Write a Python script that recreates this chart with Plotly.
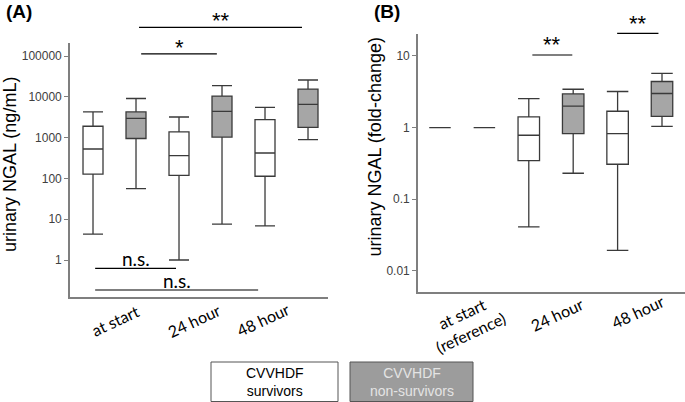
import math
import plotly.graph_objects as go

# ---------------- data ----------------
group_names = ["CVVHDF<br>survivors", "CVVHDF<br>non-survivors"]

# Panel A: urinary NGAL (ng/mL)
a_time_labels = ["at start", "24 hour", "48 hour"]
a_label_pos = [1.51, 3.35, 4.95]
a_surv_x = [1, 3, 5]
a_surv_low = [4.3, 1.0, 6.9]
a_surv_q1 = [128, 119, 113]
a_surv_med = [525, 360, 420]
a_surv_q3 = [1900, 1380, 2770]
a_surv_high = [4250, 3200, 5500]
a_non_x = [2, 4, 6]
a_non_low = [56, 7.6, 890]
a_non_q1 = [950, 1030, 1790]
a_non_med = [2950, 4400, 6550]
a_non_q3 = [4250, 10400, 15500]
a_non_high = [9100, 18700, 25800]
a_tickvals = [1, 10, 100, 1000, 10000, 100000]
a_ticktext = ["1", "10", "100", "1000", "10000", "100000"]
# significance comparisons: (x0, x1, line y, text y, label)
a_sig = [
    (2.07, 5.86, 10 ** 5.70, 10 ** 5.86, "**"),
    (2.12, 3.88, 10 ** 5.05, 10 ** 5.22, "*"),
    (1.05, 2.93, 10 ** -0.203, 10 ** 0.03, "n.s."),
    (1.05, 4.84, 10 ** -0.735, 10 ** -0.51, "n.s."),
]

# Panel B: urinary NGAL (fold-change)
b_time_labels = ["at start<br>(reference)", "24 hour", "48 hour"]
b_label_pos = [1.6, 3.63, 5.46]
b_surv_x = [1, 3, 5]
b_surv_low = [1, 0.041, 0.0192]
b_surv_q1 = [1, 0.345, 0.307]
b_surv_med = [1, 0.78, 0.82]
b_surv_q3 = [1, 1.41, 1.69]
b_surv_high = [1, 2.54, 3.19]
b_non_x = [2, 4, 6]
b_non_low = [1, 0.23, 1.04]
b_non_q1 = [1, 0.82, 1.43]
b_non_med = [1, 1.99, 2.99]
b_non_q3 = [1, 2.95, 4.4]
b_non_high = [1, 3.43, 5.7]
b_tickvals = [0.01, 0.1, 1, 10]
b_ticktext = ["0.01", "0.1", "1", "10"]
b_sig = [
    (3.08, 3.98, 10 ** 1.014, 10 ** 1.16, "**"),
    (4.99, 5.92, 10 ** 1.317, 10 ** 1.45, "**"),
]

# ---------------- styling ----------------
LINE = "#3a3a3a"
AXIS = "#7f7f7f"
GRAY_FILL = "#a6a6a6"
W, H = 685, 402
A_YRANGE = [-0.907, 5.319]
B_YRANGE = [-2.302, 1.303]

fig = go.Figure()


def add_boxes(xs, low, q1, med, q3, high, fill, width, xa, ya):
    fig.add_trace(go.Box(
        x=xs, lowerfence=low, q1=q1, median=med, q3=q3, upperfence=high,
        width=width, whiskerwidth=1, fillcolor=fill,
        line=dict(color=LINE, width=1.3), boxpoints=False,
        showlegend=False, hoverinfo="skip", xaxis=xa, yaxis=ya,
    ))


add_boxes(a_surv_x, a_surv_low, a_surv_q1, a_surv_med, a_surv_q3, a_surv_high, "white", 0.465, "x", "y")
add_boxes(a_non_x, a_non_low, a_non_q1, a_non_med, a_non_q3, a_non_high, GRAY_FILL, 0.465, "x", "y")
add_boxes(b_surv_x, b_surv_low, b_surv_q1, b_surv_med, b_surv_q3, b_surv_high, "white", 0.484, "x2", "y2")
add_boxes(b_non_x, b_non_low, b_non_q1, b_non_med, b_non_q3, b_non_high, GRAY_FILL, 0.484, "x2", "y2")


def dom(v, rng):
    return (math.log10(v) - rng[0]) / (rng[1] - rng[0])


shapes = []
annotations = []
for sig, xr, yr, rng in [(a_sig, "x", "y domain", A_YRANGE), (b_sig, "x2", "y2 domain", B_YRANGE)]:
    for x0, x1, yl, yt, lab in sig:
        shapes.append(dict(type="line", xref=xr, yref=yr, x0=x0, x1=x1,
                           y0=dom(yl, rng), y1=dom(yl, rng),
                           line=dict(color="black", width=1.2)))
        if lab == "n.s.":
            font = dict(family="Lato, Calibri, sans-serif", size=19, color="black")
        else:
            font = dict(family="Liberation Sans, Arial, sans-serif", size=22, color="black")
        annotations.append(dict(xref=xr, yref=yr, x=(x0 + x1) / 2, y=dom(yt, rng),
                                text=lab, showarrow=False, font=font,
                                xanchor="center", yanchor="middle"))

# x category labels (rotated)
for labels, pos, xr, ys in [(a_time_labels, a_label_pos, "x", [320, 320, 319]),
                            (b_time_labels, b_label_pos, "x2", [323, 314, 311.5])]:
    for lab, p, yy in zip(labels, pos, ys):
        annotations.append(dict(xref=xr, yref="paper", x=p, y=1 - yy / H, text=lab,
                                showarrow=False, textangle=-25,
                                font=dict(family="Lato, Calibri, sans-serif", size=16, color="black"),
                                xanchor="center", yanchor="middle"))

# panel letters and y titles
annotations += [
    dict(xref="paper", yref="paper", x=19 / W, y=1 - 12 / H, text="<b>(A)</b>", showarrow=False,
         font=dict(family="Liberation Sans, Arial", size=19, color="black"), xanchor="center", yanchor="middle"),
    dict(xref="paper", yref="paper", x=387 / W, y=1 - 12 / H, text="<b>(B)</b>", showarrow=False,
         font=dict(family="Liberation Sans, Arial", size=19, color="black"), xanchor="center", yanchor="middle"),
    dict(xref="paper", yref="paper", x=10 / W, y=1 - 165 / H, text="urinary NGAL (ng/mL)", showarrow=False,
         textangle=-90, font=dict(family="Liberation Sans, Arial", size=18, color="black"),
         xanchor="center", yanchor="middle"),
    dict(xref="paper", yref="paper", x=374.5 / W, y=1 - 147 / H, text="urinary NGAL (fold-change)", showarrow=False,
         textangle=-90, font=dict(family="Liberation Sans, Arial", size=18, color="black"),
         xanchor="center", yanchor="middle"),
]

# legend boxes (rectangles + centred text)
for name, (x0, x1), bg, fc in [(group_names[0], (211, 338), "white", "black"),
                               (group_names[1], (350, 473), "#9c9c9c", "#e4e4e4")]:
    shapes.append(dict(type="rect", xref="paper", yref="paper",
                       x0=x0 / W, x1=x1 / W, y0=1 - 401.5 / H, y1=1 - 362 / H,
                       fillcolor=bg, line=dict(color="#555555", width=1), layer="above"))
    annotations.append(dict(xref="paper", yref="paper", x=(x0 + x1) / 2 / W, y=1 - 382 / H,
                            text=name, showarrow=False,
                            font=dict(family="Liberation Sans, Arial", size=14, color=fc),
                            xanchor="center", yanchor="middle", align="center"))

yaxis_common = dict(type="log", showline=True, linecolor=AXIS, linewidth=1.6,
                    ticks="outside", ticklen=4, tickcolor=AXIS, tickwidth=1,
                    showgrid=False, zeroline=False,
                    tickfont=dict(family="Liberation Sans, Arial", size=12, color="#404040"))
xaxis_common = dict(showline=True, linecolor=AXIS, linewidth=1.6, ticks="",
                    showticklabels=False, showgrid=False, zeroline=False)

fig.update_layout(
    width=W, height=H, margin=dict(l=0, r=0, t=0, b=0),
    paper_bgcolor="white", plot_bgcolor="white", boxmode="overlay",
    xaxis=dict(domain=[70 / W, 328 / W], range=[0.465, 6.465], anchor="y", **xaxis_common),
    yaxis=dict(domain=[1 - 297 / H, 1 - 43 / H], range=A_YRANGE, anchor="x",
               tickvals=a_tickvals, ticktext=a_ticktext, **yaxis_common),
    xaxis2=dict(domain=[418 / W, 1.0], range=[0.505, 6.518], anchor="y2", **xaxis_common),
    yaxis2=dict(domain=[1 - 292.3 / H, 1 - 34.3 / H], range=B_YRANGE, anchor="x2",
                tickvals=b_tickvals, ticktext=b_ticktext, **yaxis_common),
    shapes=shapes, annotations=annotations,
)

fig.write_html("out.html", config={"displayModeBar": False},
               post_script="document.body.style.margin='0';document.body.style.overflow='hidden';")
